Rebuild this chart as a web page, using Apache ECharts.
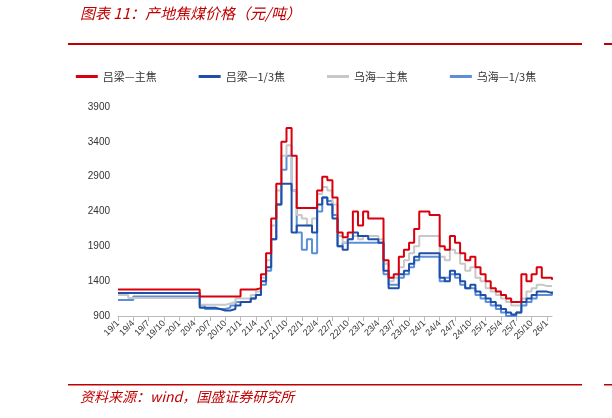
<!DOCTYPE html>
<html><head><meta charset="utf-8">
<script src="https://cdn.jsdelivr.net/npm/echarts@6/dist/echarts.min.js"></script>
<style>body{margin:0}#main{width:612px;height:418px}</style></head>
<body><div id="main"></div>
<script>
// 月度数据 2019/1 - 2026/2
const months = [];
for (let y = 19; y <= 26; y++) for (let m = 1; m <= 12; m++) if (!(y === 26 && m > 2)) months.push(y + '/' + m);

const lvZhu = [1280,1280,1280,1280,1280,1280,1280,1280,1280,1280,1280,1280,
  1280,1280,1280,1280,1180,1180,1180,1180,1180,1180,1180,1180,
  1280,1280,1280,1300,1500,1800,2300,2800,3400,3600,3200,2450,
  2450,2450,2450,2700,2900,2850,2600,2100,2030,2100,2400,2200,
  2400,2300,2300,2300,1700,1450,1500,1750,1850,1950,2150,2400,
  2400,2350,2350,1900,1850,2050,1950,1800,1700,1750,1600,1500,
  1400,1300,1250,1200,1150,1100,1100,1500,1400,1500,1600,1450,
  1450,1420];
const lvSan = [1230,1230,1230,1230,1230,1230,1230,1230,1230,1230,1230,1230,
  1230,1230,1230,1230,1020,1020,1020,1000,980,980,1000,1050,
  1100,1100,1150,1200,1400,1600,2000,2500,2800,2800,2100,2200,
  2200,2200,2100,2500,2600,2500,2300,1900,1850,2000,2100,2050,
  2050,2000,2000,1950,1550,1300,1300,1500,1550,1650,1750,1800,
  1800,1800,1800,1450,1400,1550,1500,1400,1300,1350,1250,1200,
  1150,1100,1050,1000,950,920,950,1100,1150,1200,1250,1250,
  1230,1250];
const wuZhu = [1200,1200,1160,1160,1160,1160,1160,1160,1160,1160,1160,1160,
  1160,1160,1160,1160,1060,1060,1060,1060,1060,1080,1100,1150,
  1150,1150,1200,1250,1450,1700,2200,2700,3200,3350,2700,2350,
  2300,2200,2300,2650,2750,2700,2500,2050,1950,2000,2050,2000,
  2050,2050,2050,2000,1650,1400,1450,1600,1700,1800,1900,2050,
  2050,2050,2050,1750,1700,1850,1800,1650,1550,1600,1450,1400,
  1300,1250,1200,1150,1100,1050,1050,1150,1250,1300,1350,1330,
  1330,1320];
const wuSan = [1130,1130,1130,1180,1180,1180,1180,1180,1180,1180,1180,1180,
  1180,1180,1180,1180,1050,1000,1000,1000,1000,1020,1050,1100,
  1100,1100,1150,1200,1350,1550,2000,2500,3000,3200,2700,2100,
  1850,2000,1800,2400,2600,2550,2350,1900,1950,1950,1950,1950,
  1950,1950,1950,1950,1500,1350,1350,1450,1500,1600,1700,1750,
  1750,1750,1750,1400,1450,1500,1450,1350,1300,1300,1200,1150,
  1100,1050,1000,950,900,900,950,1050,1100,1150,1200,1200,
  1200,1230];

const names = ['吕梁—主焦', '吕梁—1/3焦', '乌海—主焦', '乌海—1/3焦'];
const colors = ['#d9000e', '#1f4fa8', '#c8c8c8', '#5b8fd8'];
const datas = [lvZhu, lvSan, wuZhu, wuSan];

const chart = echarts.init(document.getElementById('main'));
chart.setOption({
  animation: false,
  textStyle: { fontFamily: 'Noto Sans CJK SC' },
  color: colors,
  legend: {
    top: 66, left: 'center', itemWidth: 22, itemHeight: 3, itemGap: 42,
    icon: 'rect', textStyle: { fontSize: 11, color: '#333' },
    data: names
  },
  grid: { left: 118, right: 60, top: 107, bottom: 102 },
  xAxis: {
    type: 'category', data: months, boundaryGap: false,
    axisLine: { lineStyle: { color: '#bbb' } },
    axisTick: { interval: 2, lineStyle: { color: '#bbb' } },
    axisLabel: { interval: 2, rotate: 45, fontSize: 9, color: '#333', margin: 6, fontFamily: 'Liberation Sans' }
  },
  yAxis: {
    type: 'value', min: 900, max: 3900, interval: 500,
    splitLine: { show: false },
    axisLabel: { fontSize: 10, color: '#333', formatter: v => String(v), fontFamily: 'Liberation Sans' }
  },
  series: datas.map((d, i) => ({
    name: names[i], type: 'line', step: 'end', data: d, symbol: 'none',
    z: 4 - i, lineStyle: { width: 2, color: colors[i] }
  })),
  graphic: [
    { type: 'text', left: 80, top: 6, style: { text: '图表 11：产地焦煤价格（元/吨）', fontSize: 15, fontStyle: 'italic', fill: '#c00000', fontFamily: 'Noto Sans CJK SC' } },
    { type: 'rect', shape: { x: 68, y: 43, width: 514, height: 2 }, style: { fill: '#c00000' } },
    { type: 'rect', shape: { x: 604, y: 43, width: 8, height: 2 }, style: { fill: '#c00000' } },
    { type: 'rect', shape: { x: 68, y: 384, width: 514, height: 1.5 }, style: { fill: '#c00000' } },
    { type: 'rect', shape: { x: 604, y: 384, width: 8, height: 1.5 }, style: { fill: '#c00000' } },
    { type: 'text', left: 80, top: 390, style: { text: '资料来源：wind，国盛证券研究所', fontSize: 14, fontStyle: 'italic', fill: '#c00000', fontFamily: 'Noto Sans CJK SC' } }
  ]
});
</script></body></html>
